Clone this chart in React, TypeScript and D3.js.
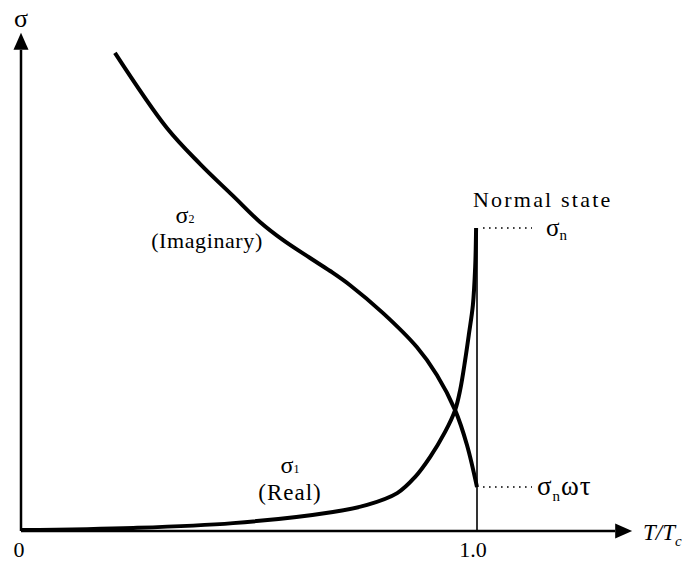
import React from "react";
import * as d3 from "d3";

// Normalised temperature T/Tc and conductivity in units of the normal-state value σn
const sigma1T = [0, 0.246, 0.465, 0.684, 0.759, 0.825, 0.864, 0.897, 0.93, 0.952, 0.963, 0.974, 0.982, 0.991, 0.996, 0.998];
const sigma1V = [0.003, 0.01, 0.026, 0.063, 0.086, 0.125, 0.178, 0.244, 0.327, 0.399, 0.465, 0.564, 0.647, 0.746, 0.871, 1.0];

const sigma2T = [0.206, 0.32, 0.393, 0.465, 0.524, 0.575, 0.634, 0.678, 0.721, 0.794, 0.868, 0.912, 0.952, 0.978, 1.0];
const sigma2V = [1.578, 1.33, 1.211, 1.106, 1.02, 0.96, 0.901, 0.858, 0.812, 0.719, 0.607, 0.515, 0.399, 0.284, 0.145];

const tickValues = [0, 1.0];
const tickLabels = ["0", "1.0"];

const W = 689;
const H = 562;
const FONT = "Liberation Serif";

export default function App() {
  const x = d3.scaleLinear().domain([0, 1]).range([21, 477]);
  const y = d3.scaleLinear().domain([0, 1]).range([531, 228]);

  const xEnd = x(1.303);
  const yTop = y(1.588);

  const line = d3
    .line<[number, number]>()
    .x((d) => x(d[0]))
    .y((d) => y(d[1]))
    .curve(d3.curveCatmullRom.alpha(0.5));

  const s1 = sigma1T.map((t, i) => [t, sigma1V[i]] as [number, number]);
  const s2 = sigma2T.map((t, i) => [t, sigma2V[i]] as [number, number]);

  const x0 = x(0);
  const y0 = y(0);
  const xc = x(1);

  return (
    <svg
      width={W}
      height={H}
      viewBox={`0 0 ${W} ${H}`}
      style={{ position: "absolute", left: 0, top: 0, background: "#fff", fontFamily: FONT }}
    >
      {/* axes with arrowheads */}
      <line x1={x0} y1={y0} x2={xEnd} y2={y0} stroke="#000" strokeWidth={2.5} />
      <path d={`M${xEnd + 17},${y0} L${xEnd},${y0 - 7.5} L${xEnd},${y0 + 7.5} Z`} fill="#000" />
      <line x1={x0} y1={y0} x2={x0} y2={yTop} stroke="#000" strokeWidth={2.5} />
      <path d={`M${x0},${yTop - 17} L${x0 - 7.5},${yTop} L${x0 + 7.5},${yTop} Z`} fill="#000" />

      {/* Tc marker */}
      <line x1={xc} y1={y0} x2={xc} y2={y(1)} stroke="#000" strokeWidth={1.6} />

      {/* reference levels */}
      <line x1={xc + 6} y1={y(1)} x2={xc + 55} y2={y(1)} stroke="#000" strokeWidth={1.5} strokeDasharray="1.6 4.4" />
      <line x1={xc + 6} y1={y(0.145)} x2={xc + 55} y2={y(0.145)} stroke="#000" strokeWidth={1.5} strokeDasharray="1.6 4.4" />

      {/* conductivity curves */}
      <path d={line(s1) ?? ""} fill="none" stroke="#000" strokeWidth={4} />
      <path d={line(s2) ?? ""} fill="none" stroke="#000" strokeWidth={4} />

      {/* tick labels */}
      {tickValues.map((v, i) => (
        <text key={i} x={x(v) - (i === 0 ? 2 : 4)} y={557} fontSize={22} textAnchor="middle">
          {tickLabels[i]}
        </text>
      ))}

      {/* axis titles */}
      <text x={x0} y={27} fontSize={26} textAnchor="middle">σ</text>
      <text x={643} y={540} fontSize={23} fontStyle="italic">
        T/T<tspan fontSize={15} dy={6}>c</tspan>
      </text>

      {/* curve labels */}
      <text x={185} y={223} fontSize={24} textAnchor="middle">
        σ<tspan fontSize={12}>2</tspan>
      </text>
      <text x={207} y={248} fontSize={22} textAnchor="middle" letterSpacing={0.6}>(Imaginary)</text>

      <text x={290} y={473} fontSize={24} textAnchor="middle">
        σ<tspan fontSize={12}>1</tspan>
      </text>
      <text x={290} y={500} fontSize={23} textAnchor="middle" letterSpacing={1}>(Real)</text>

      <text x={473} y={207} fontSize={22} letterSpacing={2.2}>Normal state</text>
      <text x={546} y={236} fontSize={25}>
        σ<tspan fontSize={15} dy={4}>n</tspan>
      </text>
      <text x={537} y={495} fontSize={27} letterSpacing={1}>
        σ<tspan fontSize={15} dy={6}>n</tspan>
        <tspan dy={-6}>ωτ</tspan>
      </text>
    </svg>
  );
}
